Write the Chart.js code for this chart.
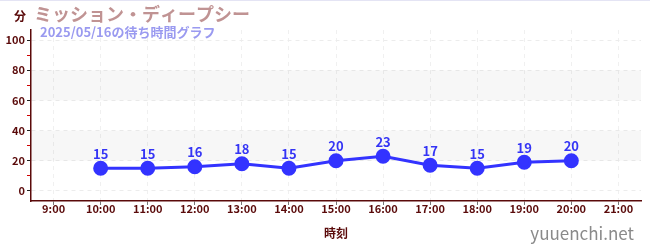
<!DOCTYPE html>
<html>
<head>
<meta charset="utf-8">
<script src="https://cdn.jsdelivr.net/npm/chart.js@4/dist/chart.umd.min.js"></script>
<style>
  html, body { margin: 0; padding: 0; background: #fff; }
  #wrap { width: 650px; height: 250px; position: relative; border-top: 1px solid #e4e4f4; box-sizing: border-box; }
</style>
</head>
<body>
<div id="wrap"><canvas id="chart" width="650" height="249"></canvas></div>
<script>
const hours = [10, 11, 12, 13, 14, 15, 16, 17, 18, 19, 20];
const waits = [15, 15, 16, 18, 15, 20, 23, 17, 15, 19, 20];
const yTicks = [0, 10, 20, 30, 40, 50, 60, 70, 80, 90, 100];
const xTicks = [9, 10, 11, 12, 13, 14, 15, 16, 17, 18, 19, 20, 21];

const FONT = '"Noto Sans CJK JP", "Noto Sans", sans-serif';
const MAROON = '#5a0a0a';

const bands = {
  id: 'bands',
  beforeDatasetsDraw(chart) {
    const { ctx, chartArea, scales } = chart;
    ctx.save();
    ctx.fillStyle = 'rgba(0,0,0,0.03)';
    [[20, 40], [60, 80]].forEach(([a, b]) => {
      const y1 = scales.y.getPixelForValue(b);
      const y2 = scales.y.getPixelForValue(a);
      ctx.fillRect(chartArea.left, y1, chartArea.right - chartArea.left, y2 - y1);
    });
    ctx.restore();
  }
};

const texts = {
  id: 'texts',
  afterDraw(chart) {
    const { ctx } = chart;
    const meta = chart.getDatasetMeta(0);
    ctx.save();
    ctx.textAlign = 'center';
    ctx.textBaseline = 'bottom';
    ctx.fillStyle = '#3535f5';
    ctx.font = 'bold 13px ' + FONT;
    meta.data.forEach((pt, i) => {
      ctx.fillText(String(waits[i]), pt.x, pt.y - 8);
    });

    ctx.textAlign = 'left';
    ctx.textBaseline = 'middle';
    ctx.fillStyle = MAROON;
    ctx.font = 'bold 12px ' + FONT;
    ctx.fillText('分', 14, 15);

    ctx.fillStyle = '#c09393';
    ctx.font = 'bold 18px ' + FONT;
    ctx.fillText('ミッション・ディープシー', 34, 13);

    ctx.fillStyle = '#9a9af0';
    ctx.font = 'bold 13px ' + FONT;
    ctx.fillText('2025/05/16の待ち時間グラフ', 40, 31);

    ctx.textAlign = 'right';
    ctx.fillStyle = '#8a8a8a';
    ctx.font = '17px ' + FONT;
    ctx.fillText('yuuenchi.net', 634, 233);
    ctx.restore();
  }
};

const isHour = (c) => c.tick && xTicks.includes(c.tick.value);

new Chart(document.getElementById('chart'), {
  type: 'line',
  data: {
    datasets: [{
      data: hours.map((h, i) => ({ x: h, y: waits[i] })),
      borderColor: '#3333ff',
      backgroundColor: '#3333ff',
      borderWidth: 3,
      pointRadius: 6,
      pointHoverRadius: 6,
      tension: 0
    }]
  },
  options: {
    responsive: false,
    animation: false,
    layout: { padding: { top: 29, right: 9, left: 0, bottom: 0 } },
    plugins: { legend: { display: false }, tooltip: { enabled: false } },
    scales: {
      x: {
        type: 'linear',
        min: 8.52,
        max: 21.48,
        afterBuildTicks: (scale) => { scale.ticks = xTicks.map(v => ({ value: v })); },
        afterFit: (scale) => { scale.height = 49; },
        ticks: {
          color: MAROON,
          font: { family: FONT, size: 11, weight: 'bold' },
          padding: -3,
          callback: (v) => v + ':00'
        },
        grid: {
          color: (c) => (isHour(c) ? '#f0f0f0' : 'rgba(0,0,0,0)'),
          tickColor: '#777',
          tickLength: 4
        },
        border: { color: MAROON, width: 1.5, dash: [4, 4] },
        title: {
          display: true,
          text: '時刻',
          color: MAROON,
          font: { family: FONT, size: 12, weight: 'bold' },
          padding: { top: 4, bottom: 9 }
        }
      },
      y: {
        min: -6.7,
        max: 106.7,
        afterBuildTicks: (scale) => { scale.ticks = yTicks.map(v => ({ value: v })); },
        afterFit: (scale) => { scale.width = 31; },
        ticks: {
          color: MAROON,
          font: { family: FONT, size: 11, weight: 'bold' },
          padding: 2,
          callback: (v) => (v % 20 === 0 ? v : '')
        },
        grid: {
          color: (c) => (c.tick && c.tick.value % 20 === 0 ? '#ececec' : 'rgba(0,0,0,0)'),
          tickColor: (c) => (c.tick && c.tick.value % 20 === 0 ? '#222' : '#d00000'),
          tickLength: 4
        },
        border: { color: MAROON, width: 1.5, dash: [4, 4] }
      }
    }
  },
  plugins: [bands, texts]
});
</script>
</body>
</html>
